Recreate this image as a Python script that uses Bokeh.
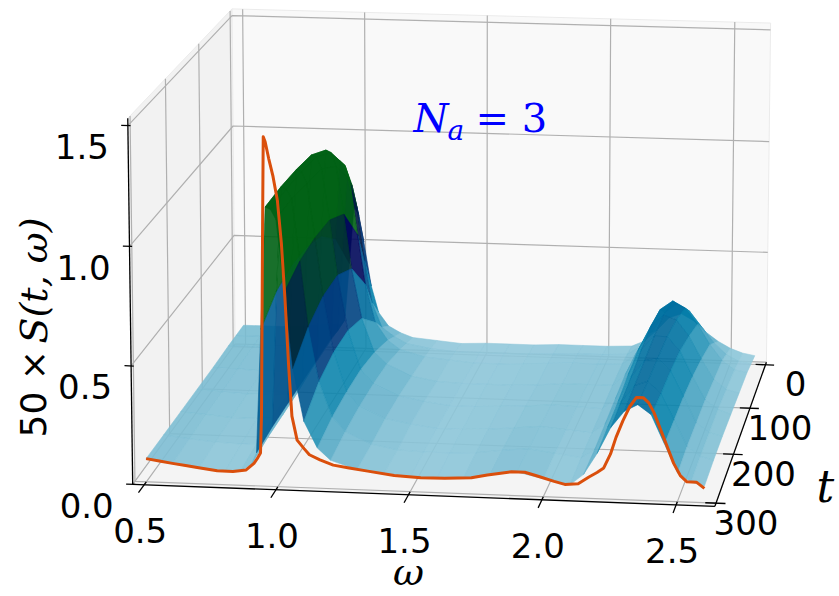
import numpy as np
from bokeh.plotting import figure
from bokeh.models import Range1d
from bokeh.core.properties import value
from bokeh.embed import file_html
from bokeh.resources import INLINE

# ---------------- data ----------------
omega = [0.50, 0.60, 0.70, 0.80, 0.86, 0.90, 0.92, 0.94, 0.96, 0.98, 1.00, 1.03,
         1.06, 1.10, 1.15, 1.20, 1.30, 1.40, 1.50, 1.60, 1.70, 1.80, 1.90, 2.00,
         2.10, 2.15, 2.20, 2.25, 2.30, 2.35, 2.40, 2.45, 2.50, 2.55, 2.60]
t_grid = [0, 25, 50, 100, 150, 200, 250, 300]

S_t000 = [0.10, 0.10, 0.10, 0.11, 0.12, 0.12, 0.14, 0.40, 0.66, 0.62, 0.50, 0.30,
          0.18, 0.12, 0.09, 0.07, 0.06, 0.05, 0.055, 0.055, 0.055, 0.06, 0.06, 0.06,
          0.065, 0.09, 0.14, 0.20, 0.22, 0.19, 0.14, 0.10, 0.07, 0.05, 0.04]
S_t025 = [0.10, 0.10, 0.10, 0.10, 0.11, 0.11, 0.14, 0.50, 0.84, 0.80, 0.70, 0.46,
          0.27, 0.16, 0.12, 0.09, 0.07, 0.06, 0.06, 0.06, 0.06, 0.065, 0.07, 0.07,
          0.075, 0.11, 0.18, 0.27, 0.31, 0.28, 0.21, 0.14, 0.09, 0.06, 0.05]
S_t050 = [0.10, 0.10, 0.095, 0.10, 0.10, 0.11, 0.15, 0.60, 0.95, 0.93, 0.86, 0.62,
          0.40, 0.23, 0.15, 0.11, 0.08, 0.07, 0.06, 0.06, 0.065, 0.07, 0.075, 0.075,
          0.08, 0.12, 0.22, 0.33, 0.37, 0.34, 0.27, 0.18, 0.11, 0.07, 0.06]
S_t100 = [0.097, 0.095, 0.09, 0.09, 0.095, 0.11, 0.15, 0.70, 1.08, 1.07, 1.01, 0.80,
          0.56, 0.34, 0.19, 0.14, 0.09, 0.07, 0.065, 0.065, 0.065, 0.07, 0.08, 0.08,
          0.08, 0.13, 0.24, 0.35, 0.40, 0.38, 0.31, 0.21, 0.12, 0.08, 0.065]
S_t150 = [0.097, 0.09, 0.085, 0.085, 0.09, 0.10, 0.15, 0.74, 1.14, 1.13, 1.08, 0.86,
          0.62, 0.38, 0.21, 0.15, 0.10, 0.08, 0.065, 0.065, 0.07, 0.075, 0.085, 0.08,
          0.075, 0.12, 0.23, 0.34, 0.40, 0.40, 0.34, 0.23, 0.13, 0.09, 0.07]
S_t200 = [0.097, 0.09, 0.08, 0.08, 0.085, 0.10, 0.15, 0.75, 1.16, 1.15, 1.10, 0.87,
          0.62, 0.38, 0.21, 0.15, 0.10, 0.08, 0.065, 0.065, 0.07, 0.08, 0.09, 0.08,
          0.07, 0.11, 0.21, 0.32, 0.39, 0.40, 0.35, 0.24, 0.13, 0.09, 0.075]
S_t250 = [0.097, 0.085, 0.075, 0.07, 0.075, 0.10, 0.15, 0.73, 1.17, 1.16, 1.12, 0.86,
          0.58, 0.35, 0.20, 0.14, 0.09, 0.07, 0.065, 0.065, 0.07, 0.085, 0.095, 0.08,
          0.065, 0.10, 0.20, 0.31, 0.38, 0.40, 0.35, 0.24, 0.13, 0.09, 0.075]
S_t300 = [0.098, 0.08, 0.065, 0.057, 0.062, 0.09, 0.14, 0.66, 1.17, 1.16, 1.12, 0.82,
          0.50, 0.28, 0.17, 0.12, 0.085, 0.07, 0.06, 0.06, 0.065, 0.085, 0.10, 0.075,
          0.055, 0.10, 0.19, 0.30, 0.37, 0.40, 0.36, 0.24, 0.12, 0.085, 0.07]
S_rows = [S_t000, S_t025, S_t050, S_t100, S_t150, S_t200, S_t250, S_t300]

# curve drawn in the t = 300 plane
line_t = 300
line_omega = [0.50, 0.55, 0.60, 0.65, 0.70, 0.77, 0.83, 0.88, 0.91, 0.925, 0.935, 0.940,
              0.945, 0.950, 0.955, 0.962, 0.975, 0.990, 1.006, 1.020, 1.032, 1.044, 1.055,
              1.074, 1.10, 1.12, 1.16, 1.21, 1.27, 1.34, 1.44, 1.54, 1.63, 1.73, 1.79,
              1.84, 1.88, 1.93, 1.98, 2.04, 2.08, 2.13, 2.17, 2.20, 2.225, 2.25, 2.27,
              2.295, 2.32, 2.345, 2.37, 2.39, 2.41, 2.435, 2.46, 2.485, 2.51, 2.535,
              2.57, 2.60]
line_S = [0.098, 0.090, 0.082, 0.075, 0.068, 0.058, 0.057, 0.066, 0.095, 0.12, 0.14, 0.30,
          0.70, 1.10, 1.46, 1.44, 1.37, 1.30, 1.20, 1.02, 0.79, 0.51, 0.30,
          0.20, 0.165, 0.14, 0.12, 0.10, 0.09, 0.08, 0.066, 0.06, 0.062, 0.068, 0.082,
          0.092, 0.10, 0.10, 0.085, 0.066, 0.055, 0.06, 0.09, 0.11, 0.13, 0.19, 0.26,
          0.33, 0.39, 0.43, 0.43, 0.41, 0.37, 0.30, 0.23, 0.16, 0.11, 0.085,
          0.085, 0.06]

omega_ticks = [0.5, 1.0, 1.5, 2.0, 2.5]
omega_tick_labels = ["0.5", "1.0", "1.5", "2.0", "2.5"]
t_ticks = [0, 100, 200, 300]
t_tick_labels = ["0", "100", "200", "300"]
z_ticks = [0.0, 0.5, 1.0, 1.5]
z_tick_labels = ["0.0", "0.5", "1.0", "1.5"]

# ---------------- layout / camera (style constants) ----------------
W, H = 838, 595
ELEV, AZIM, DIST = 13.148, -82.051, 10.211
ASPECT = (1.0, 0.9941, 0.6399)
SCREEN_CX, SCREEN_CY, SCREEN_K = 461.75, 245.55, 5768.9
Z_LIMITS = (0.0, 1.53)
# ocean_r colour ramp: surface height -> position on the 'ocean' colormap
COLOR_Z = [0.0, 0.4, 0.6, 0.8]
COLOR_POS = [0.9, 0.6, 0.35, 0.08]
SURF_ALPHA = 0.9


def padded(lo, hi):
    d = (hi - lo) / 48.0
    return lo - d, hi + d


XL = padded(min(omega), max(omega))
YL = padded(min(t_grid), max(t_grid))
ZL = Z_LIMITS

el, az = np.radians(ELEV), np.radians(AZIM)
wv = np.array([np.cos(el) * np.cos(az), np.cos(el) * np.sin(az), np.sin(el)])
asp = np.array(ASPECT)
eye = asp / 2.0 + DIST * wv
uv = np.cross([0.0, 0.0, 1.0], wv)
uv /= np.linalg.norm(uv)
vv = np.cross(wv, uv)


def P(om, tt, zz):
    om, tt, zz = np.broadcast_arrays(np.asarray(om, float), np.asarray(tt, float),
                                     np.asarray(zz, float))
    X = (om - XL[0]) / (XL[1] - XL[0]) * asp[0]
    Y = (YL[1] - tt) / (YL[1] - YL[0]) * asp[1]
    Zn = (zz - ZL[0]) / (ZL[1] - ZL[0]) * asp[2]
    rel = np.stack([X - eye[0], Y - eye[1], Zn - eye[2]], axis=-1)
    xc, yc, zc = rel @ uv, rel @ vv, rel @ wv
    return SCREEN_CX + SCREEN_K * xc / -zc, SCREEN_CY - SCREEN_K * yc / -zc, -zc


def ocean_color(zval):
    x = float(np.clip(np.interp(zval, COLOR_Z, COLOR_POS), 0.05, 1.0))
    r = np.clip(3 * x - 2, 0, 1)
    g = np.clip(abs((3 * x - 1) / 2), 0, 1)
    b = np.clip(x, 0, 1)
    return "#%02x%02x%02x" % (int(r * 255), int(g * 255), int(b * 255))


p = figure(width=W, height=H, x_range=Range1d(0, W), y_range=Range1d(H, 0),
           output_backend="svg", toolbar_location=None, min_border=0,
           x_axis_type=None, y_axis_type=None)
p.outline_line_color = None

# panes
panes = [
    ([XL[0]] * 4, [YL[1], YL[0], YL[0], YL[1]], [ZL[0], ZL[0], ZL[1], ZL[1]], "#f2f2f2"),
    ([XL[0], XL[1], XL[1], XL[0]], [YL[0]] * 4, [ZL[0], ZL[0], ZL[1], ZL[1]], "#f9f9f9"),
    ([XL[0], XL[1], XL[1], XL[0]], [YL[1], YL[1], YL[0], YL[0]], [ZL[0]] * 4, "#f4f4f4"),
]
for a, b, c, col in panes:
    x, y, _ = P(a, b, c)
    p.patch(list(x), list(y), fill_color=col, line_color="#ebebeb", line_width=1)

# grid lines
gx, gy = [], []
for w_ in omega_ticks:
    x, y, _ = P([w_, w_, w_], [YL[1], YL[0], YL[0]], [ZL[0], ZL[0], ZL[1]])
    gx.append(list(x)); gy.append(list(y))
for t_ in t_ticks:
    x, y, _ = P([XL[1], XL[0], XL[0]], [t_, t_, t_], [ZL[0], ZL[0], ZL[1]])
    gx.append(list(x)); gy.append(list(y))
for z_ in z_ticks:
    x, y, _ = P([XL[0], XL[0], XL[1]], [YL[1], YL[0], YL[0]], [z_, z_, z_])
    gx.append(list(x)); gy.append(list(y))
p.multi_line(gx, gy, line_color="#b0b0b0", line_width=1.2)

# axis lines and tick marks
ax_x, ax_y = [], []
for a, b, c in [([XL[0], XL[1]], [YL[1], YL[1]], [ZL[0], ZL[0]]),
                ([XL[1], XL[1]], [YL[1], YL[0]], [ZL[0], ZL[0]]),
                ([XL[0], XL[0]], [YL[1], YL[1]], [ZL[0], ZL[1]])]:
    x, y, _ = P(a, b, c)
    ax_x.append(list(x)); ax_y.append(list(y))
for w_ in omega_ticks:
    x, y, _ = P([w_, w_], [YL[1] + 16, YL[1] - 6], [ZL[0], ZL[0]])
    ax_x.append(list(x)); ax_y.append(list(y))
for t_ in t_ticks:
    x, y, _ = P([XL[1] - 0.04, XL[1] + 0.035], [t_, t_], [ZL[0], ZL[0]])
    ax_x.append(list(x)); ax_y.append(list(y))
for z_ in z_ticks:
    x, y, _ = P([XL[0] - 0.025, XL[0] + 0.01], [YL[1], YL[1]], [z_, z_])
    ax_x.append(list(x)); ax_y.append(list(y))
p.multi_line(ax_x, ax_y, line_color="black", line_width=1.3)

# surface: the eye sits in front of (t large) and to the right of (omega large)
# the box, so cells are painted from the back row forward, left to right
Z = np.array(S_rows, float)
polys_x, polys_y, colors = [], [], []
for i in range(len(t_grid) - 1):
    for j in range(len(omega) - 1):
        om = [omega[j], omega[j + 1], omega[j + 1], omega[j]]
        tt = [t_grid[i], t_grid[i], t_grid[i + 1], t_grid[i + 1]]
        zz = [Z[i, j], Z[i, j + 1], Z[i + 1, j + 1], Z[i + 1, j]]
        x, y, _ = P(om, tt, zz)
        polys_x.append(list(x)); polys_y.append(list(y))
        colors.append(ocean_color(np.mean(zz)))
p.patches(polys_x, polys_y, fill_color=colors, line_color=colors,
          fill_alpha=SURF_ALPHA, line_alpha=SURF_ALPHA, line_width=0.6)

# curve in the t = 300 plane
lx, ly, _ = P(line_omega, line_t, line_S)
p.line(list(lx), list(ly), line_color="#da4f0c", line_width=3, line_join="round")

# tick labels
tick_font = value("DejaVu Sans")
x, y, _ = P(omega_ticks, YL[1], ZL[0])
p.text(list(x - 4), list(y + 46), text=omega_tick_labels, text_font=tick_font,
       text_font_size="34px", text_align="center", text_baseline="middle")
x, y, _ = P(XL[1], t_ticks, ZL[0])
p.text(list(x + 30), list(y + 19), text=t_tick_labels, text_font=tick_font,
       text_font_size="34px", text_align="center", text_baseline="middle")
x, y, _ = P(XL[0], YL[1], z_ticks)
p.text(list(x - 46), list(y + 21), text=z_tick_labels, text_font=tick_font,
       text_font_size="34px", text_align="center", text_baseline="middle")

# axis labels
serif = value("DejaVu Serif")
p.text([408], [571], text=["ω"], text_font=serif, text_font_style="italic",
       text_font_size="38px", text_align="center", text_baseline="middle")
p.text([816], [486], text=["t"], text_font=serif, text_font_style="italic",
       text_font_size="44px", text_align="left", text_baseline="middle")
p.text([33], [437], text=["50 ×"], text_font=tick_font, text_font_size="36px",
       angle=np.pi / 2, text_align="left", text_baseline="middle")
p.text([33], [343], text=["S(t, ω)"], text_font=serif, text_font_style="italic",
       text_font_size="38px", angle=np.pi / 2, text_align="left", text_baseline="middle")

# annotation
p.text([413], [117.6], text=["N"], text_font=serif, text_font_style="italic",
       text_font_size="40px", text_color="#0000ff", text_baseline="middle")
p.text([447], [130], text=["a"], text_font=serif, text_font_style="italic",
       text_font_size="28px", text_color="#0000ff", text_baseline="middle")
p.text([475], [117.6], text=["= 3"], text_font=serif,
       text_font_size="40px", text_color="#0000ff", text_baseline="middle")

open("out.html", "w").write(file_html(p, INLINE))
